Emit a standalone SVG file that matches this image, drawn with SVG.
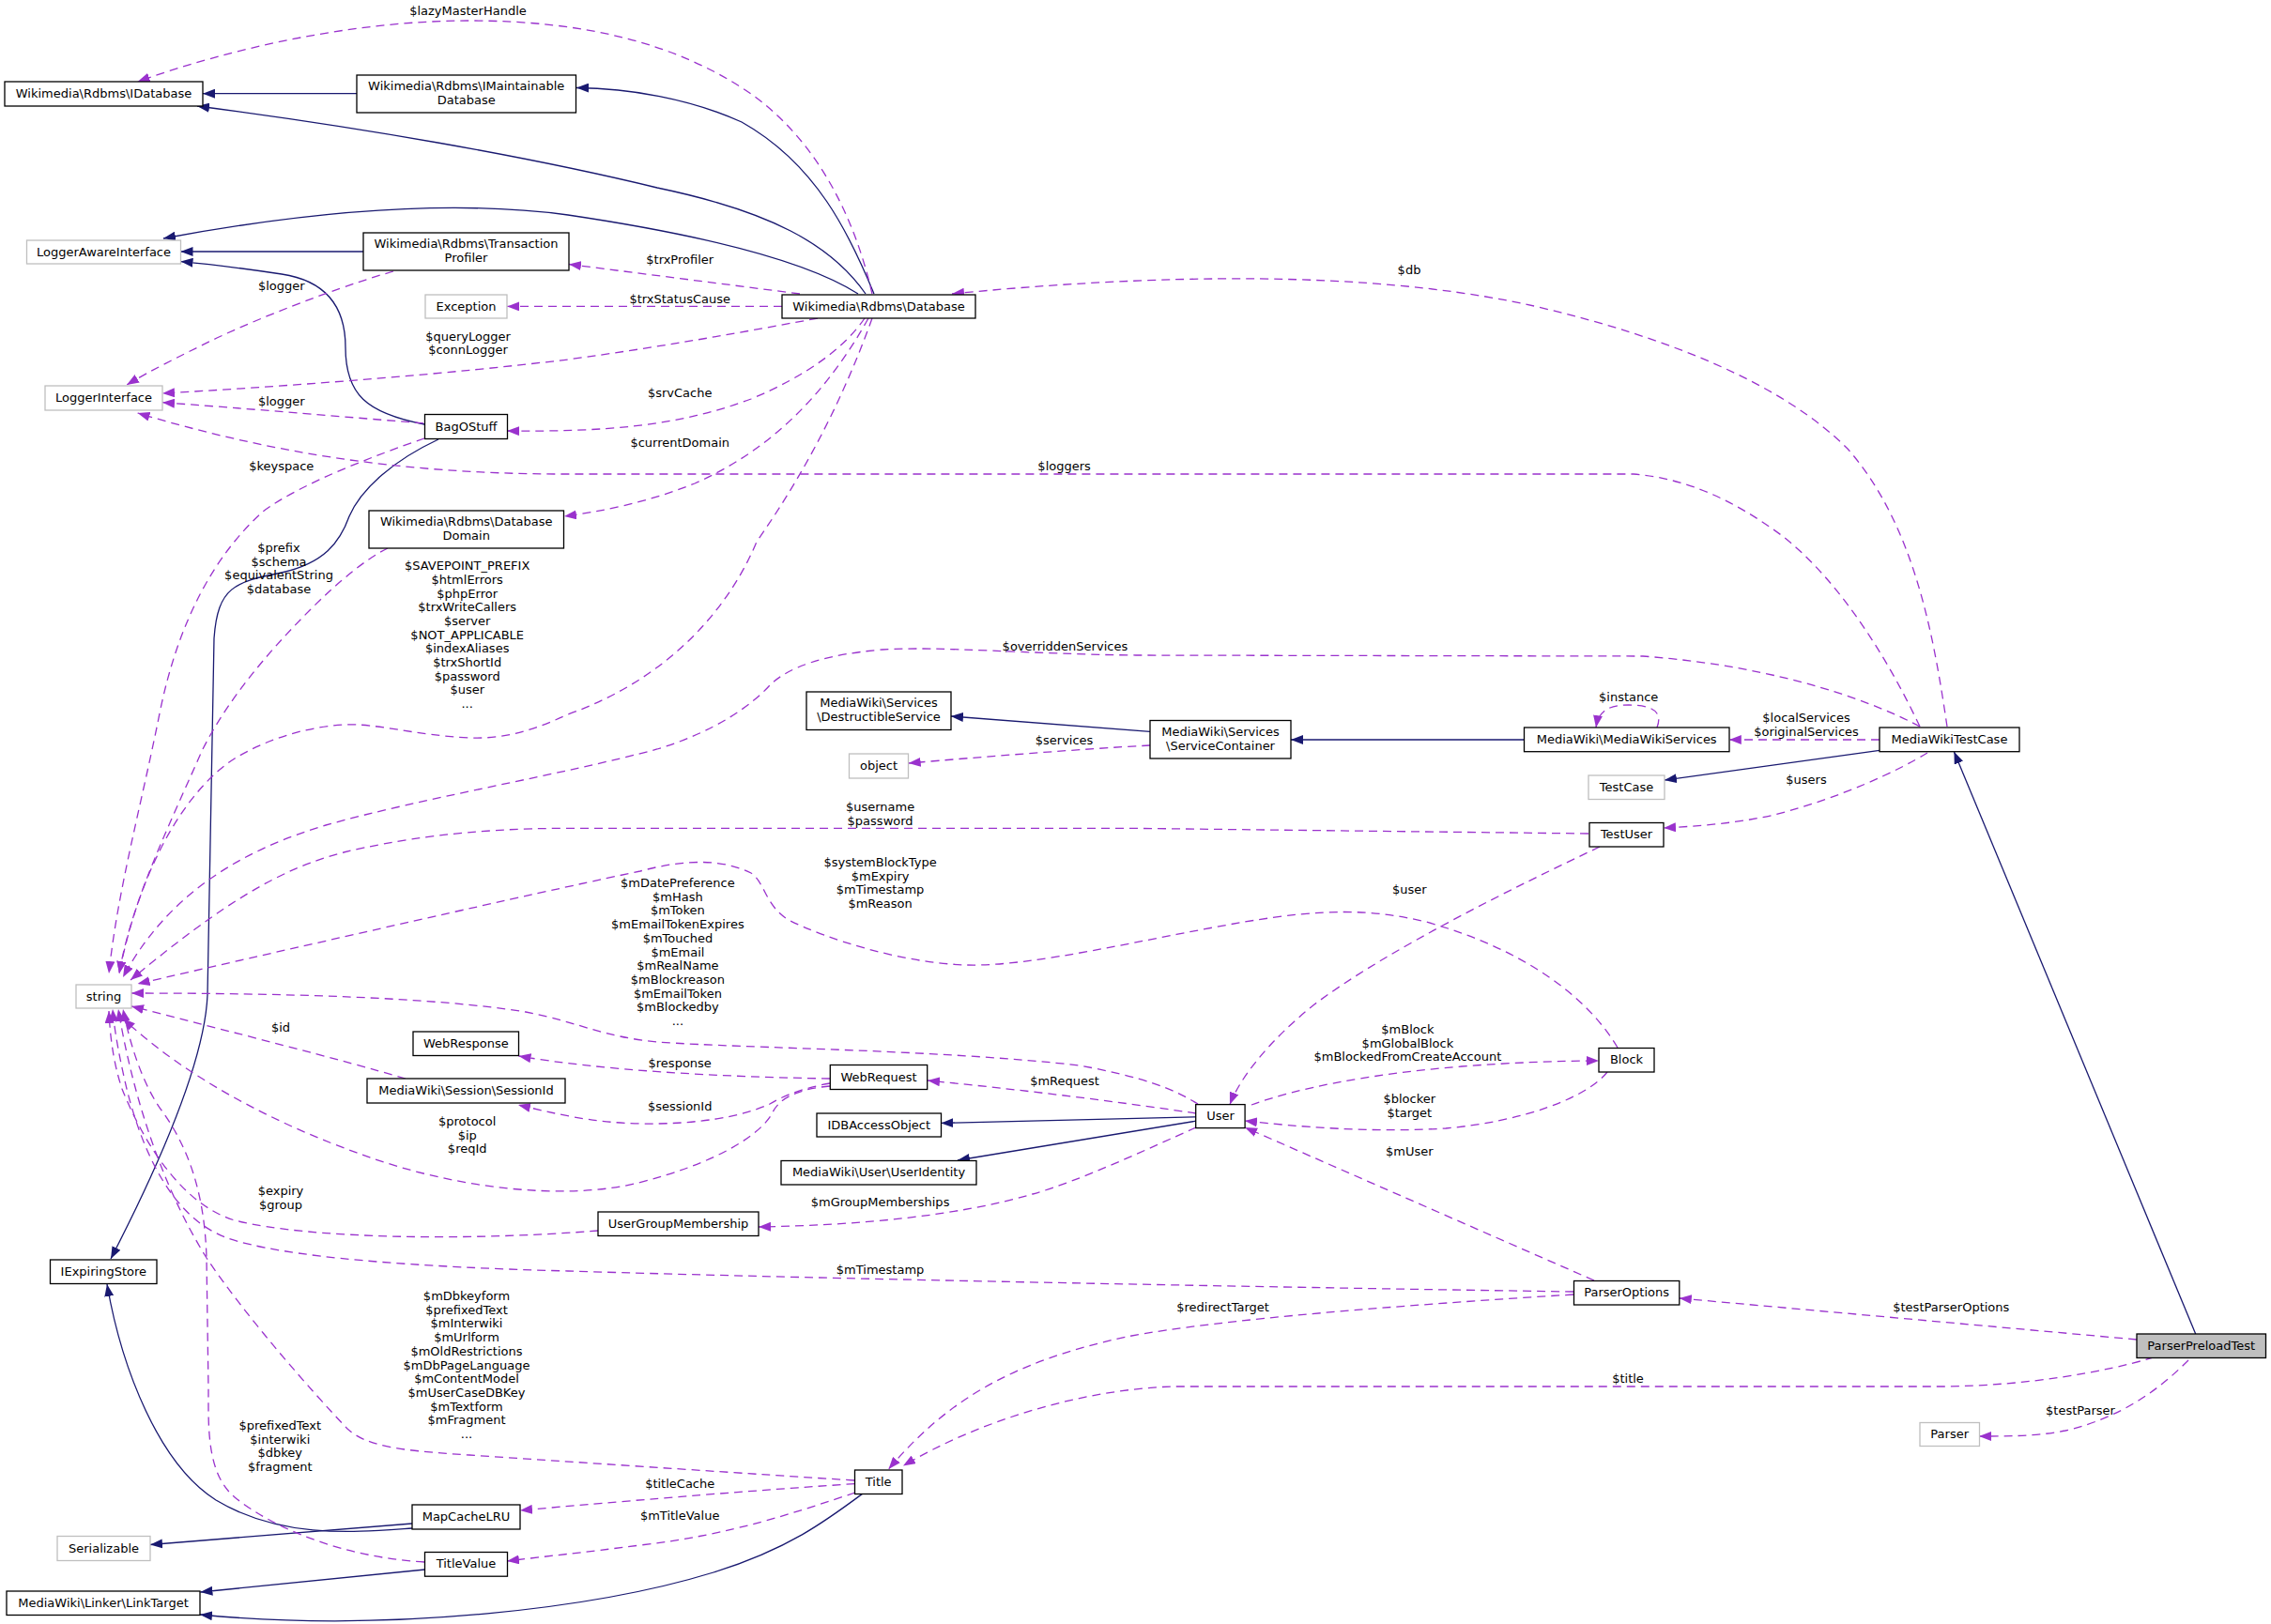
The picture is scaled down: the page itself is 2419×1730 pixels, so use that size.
<svg xmlns="http://www.w3.org/2000/svg" width="2419" height="1730" viewBox="0 0 2419 1730">
<style>
.n rect{fill:#fff;stroke:#000;stroke-width:1.3}
.g rect{fill:#fff;stroke:#bfbfbf;stroke-width:1.3}
.r rect{fill:#bfbfbf;stroke:#000;stroke-width:1.3}
text{font-family:"DejaVu Sans","Liberation Sans",sans-serif;font-size:13px;fill:#000;text-anchor:middle}
.i{fill:none;stroke:#191970;stroke-width:1.3;marker-end:url(#ai)}
.d{fill:none;stroke:#9a32cd;stroke-width:1.3;stroke-dasharray:9,6;marker-end:url(#ad)}
</style>
<defs>
<marker id="ai" viewBox="0 0 13 10" refX="13" refY="5" markerWidth="13" markerHeight="10" markerUnits="userSpaceOnUse" orient="auto"><path d="M0,0 L13,5 L0,10 z" fill="#191970"/></marker>
<marker id="ad" viewBox="0 0 13 10" refX="13" refY="5" markerWidth="13" markerHeight="10" markerUnits="userSpaceOnUse" orient="auto"><path d="M0,0 L13,5 L0,10 z" fill="#9a32cd"/></marker>
</defs>
<rect width="2419" height="1730" fill="#fff"/>
<g id="connectors">
<g id="e1"><path class="i" d="M380,99.7 L216,99.7"/></g>
<g id="e2"><path class="i" d="M922,313 C885,260 820,225 700,200 C560,166 380,135 210,113"/></g>
<g id="e3"><path class="i" d="M931,313 C905,250 870,175 790,130 C735,105 670,94 614,93.5"/></g>
<g id="e4"><path class="i" d="M914,313 C870,285 780,255 605,229 C480,212 330,225 174,254"/></g>
<g id="e5"><path class="i" d="M387,268 L192.5,268"/></g>
<g id="e6"><path class="i" d="M452,452 C390,440 368,420 368,370 C368,320 340,298 300,292 C260,286 230,282 192.5,278.6"/></g>
<g id="e7"><path class="i" d="M467,468 C420,490 385,520 372,550 C362,578 345,600 300,610 C250,620 232,625 228,680 L221,1060 C218,1130 170,1240 118,1341"/></g>
<g id="e8"><path class="i" d="M439,1628 C380,1632 300,1640 230,1598 C170,1560 130,1460 114,1368"/></g>
<g id="e9"><path class="i" d="M439,1623 L160,1645.5"/></g>
<g id="e10"><path class="i" d="M452.6,1672 L213.4,1696"/></g>
<g id="e11"><path class="i" d="M919,1591 C880,1620 840,1650 760,1675 C640,1712 420,1740 213,1720"/></g>
<g id="e12"><path class="i" d="M1225,779.4 L1013,763"/></g>
<g id="e13"><path class="i" d="M1623.5,788 L1375,788"/></g>
<g id="e14"><path class="i" d="M2002,799.3 L1773,831"/></g>
<g id="e15"><path class="i" d="M2338.7,1421 L2081.4,800.7"/></g>
<g id="e16"><path class="i" d="M1273.7,1189.8 L1002.4,1196.4"/></g>
<g id="e17"><path class="i" d="M1273.7,1194.2 L1020,1236"/></g>

<g id="u1"><path class="d" d="M929,313 C910,230 870,150 800,100 C720,45 620,22 500,22 C380,22 250,50 146.6,87"/><text x="498.5" y="16">$lazyMasterHandle</text></g>
<g id="u2"><path class="d" d="M852,313 L606,281.5"/><text x="724.2" y="281">$trxProfiler</text></g>
<g id="u3"><path class="d" d="M833,326.4 L540.2,326.4"/><text x="724.2" y="323">$trxStatusCause</text></g>
<g id="u4"><path class="d" d="M871,339 C780,356 700,370 605,383 C480,398 330,410 173,419"/><text x="498.5" y="363">$queryLogger</text><text x="498.5" y="377">$connLogger</text></g>
<g id="u5"><path class="d" d="M419,289 C380,300 300,328 231,360 C190,380 160,395 135,410"/><text x="299.8" y="309">$logger</text></g>
<g id="u6"><path class="d" d="M451,450.8 C400,447 300,438 173,428.7"/><text x="299.8" y="432">$logger</text></g>
<g id="u7"><path class="d" d="M921,339 C900,370 860,400 800,425 C720,455 640,460 540,459"/><text x="724.2" y="423">$srvCache</text></g>
<g id="u8"><path class="d" d="M925,339 C880,420 820,480 740,515 C690,535 640,545 601,550"/><text x="724.2" y="475.5">$currentDomain</text></g>
<g id="u9"><path class="d" d="M2045,774 C2010,700 1960,620 1900,572 C1850,535 1800,510 1740,505 L600,505 C420,505 280,480 146.6,440"/><text x="1133.6" y="501">$loggers</text></g>
<g id="u10"><path class="d" d="M2074,774 C2060,680 2040,560 1968,478 C1900,410 1780,360 1634,326 C1500,296 1300,285 1014,313"/><text x="1501" y="292">$db</text></g>
<g id="u11"><path class="d" d="M452,467 C400,485 320,515 280,545 C230,590 190,660 170,760 C150,860 125,950 116,1037"/><text x="299.8" y="501">$keyspace</text></g>
<g id="u12"><path class="d" d="M413,584 C390,595 360,620 330,650 C280,700 240,750 215,800 C180,880 140,960 127,1037"/><text x="297" y="588">$prefix</text><text x="297" y="602.7">$schema</text><text x="297" y="617.3">$equivalentString</text><text x="297" y="632">$database</text></g>
<g id="u13"><path class="d" d="M929,339 C900,420 860,500 806,577 C780,640 720,720 605,761 C560,782 530,787 500,786 C440,783 400,770 366,772 C320,775 280,790 250,808 C200,840 150,920 127,1037"/><text x="497.7" y="607.3">$SAVEPOINT_PREFIX</text><text x="497.7" y="622">$htmlErrors</text><text x="497.7" y="636.6">$phpError</text><text x="497.7" y="651.3">$trxWriteCallers</text><text x="497.7" y="665.9">$server</text><text x="497.7" y="680.6">$NOT_APPLICABLE</text><text x="497.7" y="695.2">$indexAliases</text><text x="497.7" y="709.9">$trxShortId</text><text x="497.7" y="724.5">$password</text><text x="497.7" y="739.2">$user</text><text x="497.7" y="753.8">...</text></g>
<g id="u14"><path class="d" d="M2045,774 C2000,750 1900,710 1750,699 L1210,698 C1100,697 1000,688 940,692 C880,697 840,710 820,730 C800,752 760,780 700,798 C600,825 450,850 347,879 C260,905 180,950 131,1041"/><text x="1134.4" y="693">$overriddenServices</text></g>
<g id="u15"><path class="d" d="M1692,888 L1210,882.4 L605,882.4 C500,882 420,895 366,908 C300,925 240,960 139,1044"/><text x="937.6" y="864">$username</text><text x="937.6" y="878.7">$password</text></g>
<g id="u16"><path class="d" d="M1723,1116 C1690,1060 1620,1010 1519,982 C1460,968 1410,968 1326,982 C1220,1000 1100,1030 1030,1028 C960,1026 880,1000 840,980 C815,965 815,940 800,930 C770,915 730,915 682,928 C600,945 400,990 146.6,1048"/><text x="937.6" y="923">$systemBlockType</text><text x="937.6" y="937.6">$mExpiry</text><text x="937.6" y="952.3">$mTimestamp</text><text x="937.6" y="967">$mReason</text></g>
<g id="u17"><path class="d" d="M1276,1176 C1250,1160 1220,1148 1150,1135 C1000,1118 800,1117 700,1110 C640,1104 620,1090 560,1078 C460,1062 300,1058 140,1058"/><text x="721.9" y="945">$mDatePreference</text><text x="721.9" y="959.7">$mHash</text><text x="721.9" y="974.4">$mToken</text><text x="721.9" y="989.1">$mEmailTokenExpires</text><text x="721.9" y="1003.8">$mTouched</text><text x="721.9" y="1018.5">$mEmail</text><text x="721.9" y="1033.2">$mRealName</text><text x="721.9" y="1047.9">$mBlockreason</text><text x="721.9" y="1062.6">$mEmailToken</text><text x="721.9" y="1077.3">$mBlockedby</text><text x="721.9" y="1092">...</text></g>
<g id="u18"><path class="d" d="M432,1149 C360,1128 250,1100 140,1072"/><text x="299" y="1099.3">$id</text></g>
<g id="u19"><path class="d" d="M884,1149 C760,1147 640,1140 552.5,1125"/><text x="724.2" y="1137">$response</text></g>
<g id="u20"><path class="d" d="M884,1154 C850,1160 830,1170 820,1176 C790,1190 740,1198 682,1197 C630,1196 590,1186 552,1177"/><text x="724.2" y="1183">$sessionId</text></g>
<g id="u21"><path class="d" d="M884,1157 C850,1160 830,1170 823,1185 C810,1210 760,1240 680,1260 C600,1280 480,1265 386,1230 C300,1200 200,1150 131,1085"/><text x="497.7" y="1199">$protocol</text><text x="497.7" y="1213.6">$ip</text><text x="497.7" y="1228.3">$reqId</text></g>
<g id="u22"><path class="d" d="M1274,1186 C1180,1172 1080,1160 988,1151"/><text x="1134" y="1155.5">$mRequest</text></g>
<g id="u23"><path class="d" d="M637,1311 C500,1322 330,1320 250,1300 C190,1282 150,1210 130,1160 C120,1130 117,1100 116,1077"/><text x="299" y="1273.4">$expiry</text><text x="299" y="1288">$group</text></g>
<g id="u24"><path class="d" d="M1676,1376 C1400,1372 900,1363 605,1354 C450,1350 300,1340 240,1318 C180,1295 150,1220 135,1160 C128,1130 122,1100 120,1075"/><text x="937.6" y="1357.3">$mTimestamp</text></g>
<g id="u25"><path class="d" d="M910,1577 C800,1570 650,1560 500,1550 C420,1545 390,1540 370,1522 C330,1480 260,1400 220,1340 C170,1260 140,1160 126,1075"/><text x="497" y="1385">$mDbkeyform</text><text x="497" y="1399.7">$prefixedText</text><text x="497" y="1414.4">$mInterwiki</text><text x="497" y="1429.1">$mUrlform</text><text x="497" y="1443.8">$mOldRestrictions</text><text x="497" y="1458.5">$mDbPageLanguage</text><text x="497" y="1473.2">$mContentModel</text><text x="497" y="1487.9">$mUserCaseDBKey</text><text x="497" y="1502.6">$mTextform</text><text x="497" y="1517.3">$mFragment</text><text x="497" y="1532">...</text></g>
<g id="u26"><path class="d" d="M452,1664 C380,1660 300,1635 250,1595 C220,1570 222,1520 222,1480 L220,1340 C218,1270 200,1220 170,1180 C150,1150 138,1110 131,1075"/><text x="298.3" y="1523">$prefixedText</text><text x="298.3" y="1537.6">$interwiki</text><text x="298.3" y="1552.3">$dbkey</text><text x="298.3" y="1567">$fragment</text></g>
<g id="u27"><path class="d" d="M2002,788 L1841.8,788"/><text x="1924" y="769">$localServices</text><text x="1924" y="784">$originalServices</text></g>
<g id="u28"><path class="d" d="M1765,775 C1770,762 1766,751 1735,751 C1715,751 1703,756 1700,775"/><text x="1734.7" y="747">$instance</text></g>
<g id="u29"><path class="d" d="M1225,794 C1150,798 1050,806 967.7,813"/><text x="1133.6" y="793">$services</text></g>
<g id="u30"><path class="d" d="M2053,802 C2020,822 1960,850 1890,868 C1850,877 1810,880 1772,882"/><text x="1924" y="835.4">$users</text></g>
<g id="u31"><path class="d" d="M1704,902 C1620,942 1480,1010 1400,1070 C1350,1110 1320,1150 1310,1176.6"/><text x="1501.3" y="952.4">$user</text></g>
<g id="u32"><path class="d" d="M1333,1177 C1380,1160 1450,1145 1557,1136 C1610,1132 1660,1130 1703,1130"/><text x="1499.4" y="1101">$mBlock</text><text x="1499.4" y="1115.7">$mGlobalBlock</text><text x="1499.4" y="1130.4">$mBlockedFromCreateAccount</text></g>
<g id="u33"><path class="d" d="M1712,1142 C1690,1170 1620,1195 1540,1202 C1460,1207 1380,1200 1326,1194"/><text x="1501.3" y="1175">$blocker</text><text x="1501.3" y="1189.6">$target</text></g>
<g id="u34"><path class="d" d="M1698,1364 L1326,1201"/><text x="1501.3" y="1231">$mUser</text></g>
<g id="u35"><path class="d" d="M1274,1201 C1220,1225 1150,1258 1100,1272 C1020,1295 920,1305 808,1307"/><text x="937.6" y="1285.2">$mGroupMemberships</text></g>
<g id="u36"><path class="d" d="M1676,1379 C1500,1390 1300,1405 1200,1424 C1080,1450 1010,1490 946.5,1565"/><text x="1302.6" y="1397.4">$redirectTarget</text></g>
<g id="u37"><path class="d" d="M2276,1427 L1788.8,1383"/><text x="2078.3" y="1397.4">$testParserOptions</text></g>
<g id="u38"><path class="d" d="M2294,1446 C2240,1462 2160,1476 2070,1477 L1250,1477 C1150,1480 1040,1515 962,1561.5"/><text x="1734" y="1472.9">$title</text></g>
<g id="u39"><path class="d" d="M2331,1449 C2300,1480 2260,1510 2200,1524 C2170,1530 2140,1530 2108,1530"/><text x="2216" y="1507">$testParser</text></g>
<g id="u40"><path class="d" d="M910.6,1580.6 C800,1588 700,1596 554,1609"/><text x="724.2" y="1585">$titleCache</text></g>
<g id="u41"><path class="d" d="M911,1590 C850,1610 780,1635 682,1646 C620,1654 580,1658 540,1663"/><text x="724.2" y="1619">$mTitleValue</text></g>
</g>

<g id="n-IDatabase" class="n"><rect x="5" y="87" width="211" height="26"/><text x="110.5" y="104">Wikimedia\Rdbms\IDatabase</text></g>
<g id="n-IMaintainableDatabase" class="n"><rect x="380" y="80" width="233.5" height="40"/><text x="496.7" y="95.7">Wikimedia\Rdbms\IMaintainable</text><text x="496.7" y="110.7">Database</text></g>
<g id="n-LoggerAwareInterface" class="g"><rect x="28.5" y="256" width="164" height="25"/><text x="110.5" y="272.5">LoggerAwareInterface</text></g>
<g id="n-TransactionProfiler" class="n"><rect x="387" y="248" width="219" height="40"/><text x="496.5" y="264">Wikimedia\Rdbms\Transaction</text><text x="496.5" y="279">Profiler</text></g>
<g id="n-Exception" class="g"><rect x="453" y="314" width="87" height="25"/><text x="496.5" y="330.5">Exception</text></g>
<g id="n-Database" class="n"><rect x="833" y="314" width="206" height="25"/><text x="936" y="330.5">Wikimedia\Rdbms\Database</text></g>
<g id="n-LoggerInterface" class="g"><rect x="48" y="411" width="125" height="26"/><text x="110.5" y="428">LoggerInterface</text></g>
<g id="n-BagOStuff" class="n"><rect x="452.5" y="441.5" width="88" height="26"/><text x="496.5" y="458.5">BagOStuff</text></g>
<g id="n-DatabaseDomain" class="n"><rect x="393" y="544" width="207.5" height="40"/><text x="496.7" y="560">Wikimedia\Rdbms\Database</text><text x="496.7" y="575">Domain</text></g>
<g id="n-string" class="g"><rect x="81" y="1049" width="59" height="25"/><text x="110.5" y="1065.5">string</text></g>
<g id="n-WebResponse" class="n"><rect x="440" y="1099" width="112.5" height="25.5"/><text x="496.3" y="1115.8">WebResponse</text></g>
<g id="n-SessionId" class="n"><rect x="391" y="1149" width="211" height="26"/><text x="496.5" y="1166">MediaWiki\Session\SessionId</text></g>
<g id="n-IExpiringStore" class="n"><rect x="53.5" y="1342" width="113.5" height="25.5"/><text x="110.3" y="1358.7">IExpiringStore</text></g>
<g id="n-MapCacheLRU" class="n"><rect x="439" y="1603" width="115" height="26"/><text x="496.5" y="1620">MapCacheLRU</text></g>
<g id="n-Serializable" class="g"><rect x="61" y="1636.5" width="99" height="26"/><text x="110.5" y="1653.5">Serializable</text></g>
<g id="n-TitleValue" class="n"><rect x="452.5" y="1653.5" width="88" height="25.7"/><text x="496.5" y="1670.4">TitleValue</text></g>
<g id="n-LinkTarget" class="n"><rect x="7" y="1695" width="206" height="25.5"/><text x="110" y="1711.7">MediaWiki\Linker\LinkTarget</text></g>
<g id="n-DestructibleService" class="n"><rect x="859" y="737" width="154" height="40.5"/><text x="936" y="753">MediaWiki\Services</text><text x="936" y="768">\DestructibleService</text></g>
<g id="n-object" class="g"><rect x="904.5" y="803" width="63" height="26"/><text x="936" y="820">object</text></g>
<g id="n-ServiceContainer" class="n"><rect x="1225" y="767.5" width="150" height="40.5"/><text x="1300" y="783.5">MediaWiki\Services</text><text x="1300" y="798.5">\ServiceContainer</text></g>
<g id="n-MediaWikiServices" class="n"><rect x="1623.5" y="775" width="218.5" height="25.7"/><text x="1732.7" y="791.8">MediaWiki\MediaWikiServices</text></g>
<g id="n-MediaWikiTestCase" class="n"><rect x="2002" y="775" width="149" height="25.7"/><text x="2076.5" y="791.8">MediaWikiTestCase</text></g>
<g id="n-TestCase" class="g"><rect x="1692" y="826" width="81" height="25.5"/><text x="1732.5" y="842.7">TestCase</text></g>
<g id="n-TestUser" class="n"><rect x="1693" y="876.5" width="79" height="25.5"/><text x="1732.5" y="893.2">TestUser</text></g>
<g id="n-Block" class="n"><rect x="1703" y="1116.5" width="59" height="25.5"/><text x="1732.5" y="1133.2">Block</text></g>
<g id="n-WebRequest" class="n"><rect x="884.3" y="1134.5" width="103.4" height="26"/><text x="936" y="1151.5">WebRequest</text></g>
<g id="n-IDBAccessObject" class="n"><rect x="870" y="1186" width="132.5" height="25"/><text x="936.2" y="1202.5">IDBAccessObject</text></g>
<g id="n-UserIdentity" class="n"><rect x="832" y="1236.5" width="208" height="25.5"/><text x="936" y="1253.2">MediaWiki\User\UserIdentity</text></g>
<g id="n-UserGroupMembership" class="n"><rect x="637" y="1291" width="171" height="25.5"/><text x="722.5" y="1307.7">UserGroupMembership</text></g>
<g id="n-Title" class="n"><rect x="910.5" y="1566" width="50.5" height="25.5"/><text x="935.7" y="1582.7">Title</text></g>
<g id="n-User" class="n"><rect x="1273.7" y="1176.6" width="52.4" height="25"/><text x="1300" y="1193">User</text></g>
<g id="n-ParserOptions" class="n"><rect x="1676.5" y="1364.5" width="112.3" height="25.5"/><text x="1732.6" y="1381.2">ParserOptions</text></g>
<g id="n-ParserPreloadTest" class="r"><rect x="2276" y="1421" width="137.5" height="25.5"/><text x="2344.7" y="1437.7">ParserPreloadTest</text></g>
<g id="n-Parser" class="g"><rect x="2045" y="1515.5" width="63.5" height="25"/><text x="2076.7" y="1532">Parser</text></g>
</svg>
